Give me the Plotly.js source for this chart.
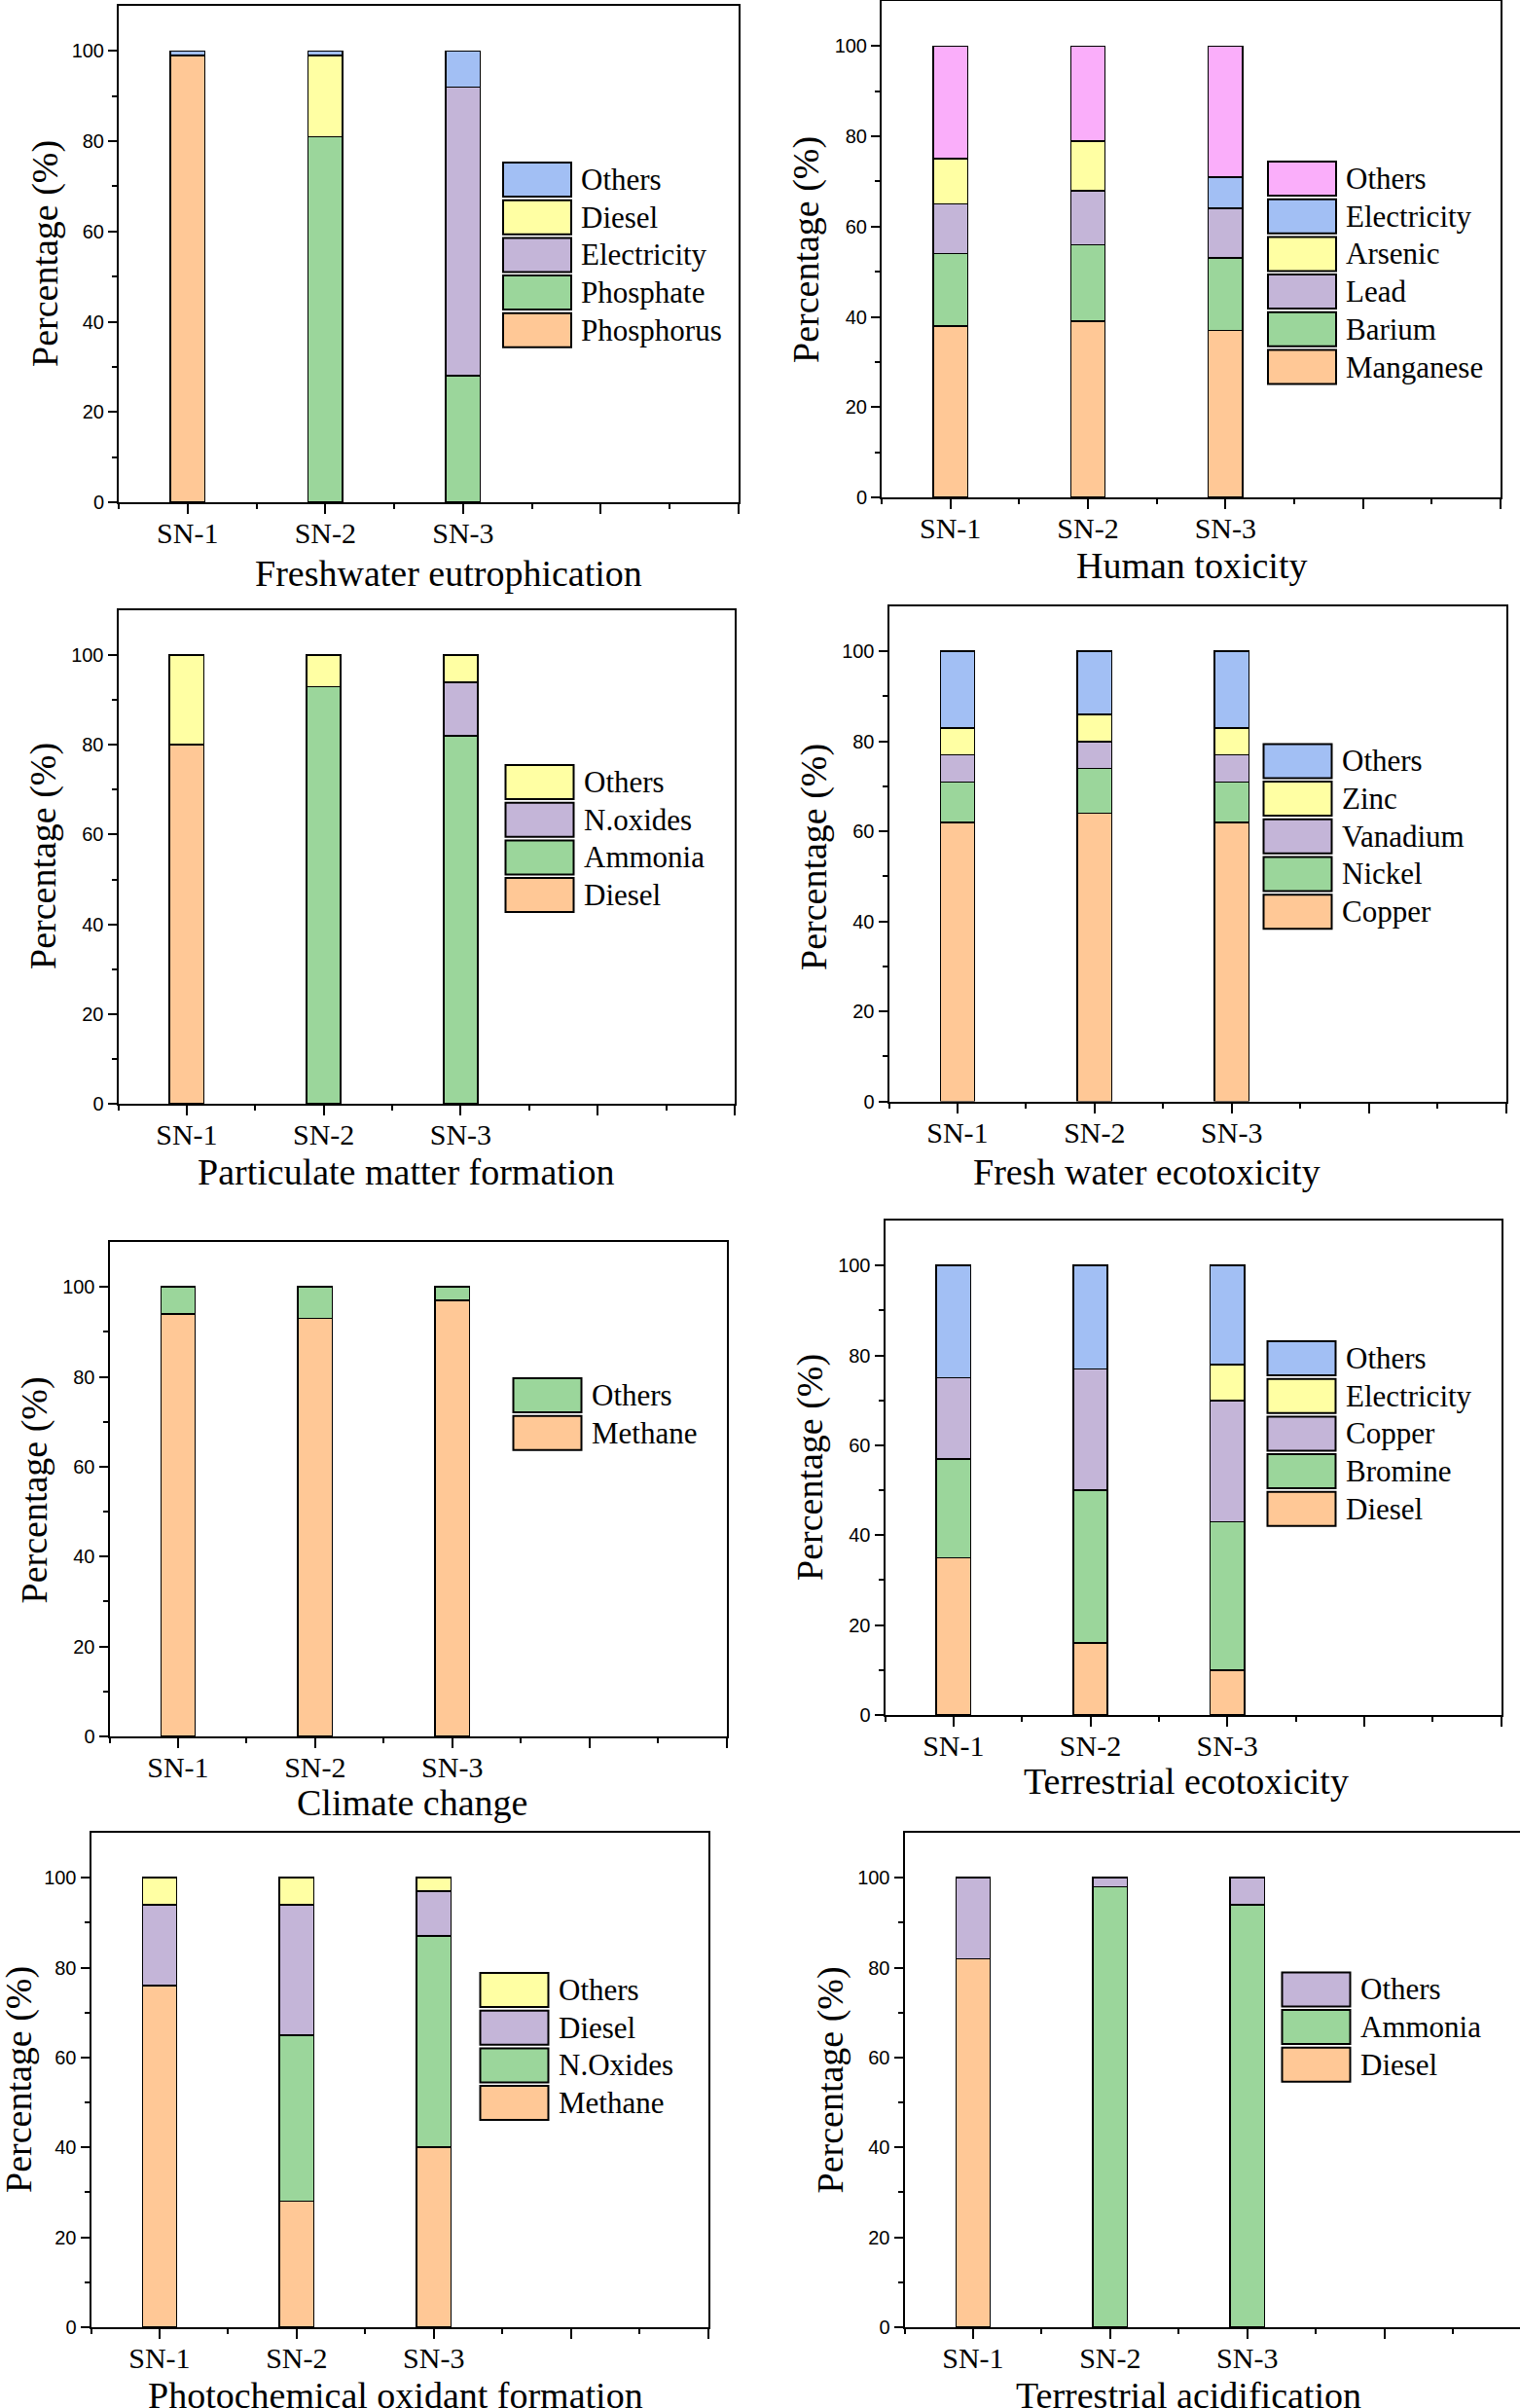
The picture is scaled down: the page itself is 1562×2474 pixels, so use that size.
<!DOCTYPE html>
<html>
<head>
<meta charset="utf-8">
<script src="https://cdn.plot.ly/plotly-3.0.1.min.js"></script>
<style>html,body{margin:0;padding:0;background:#fff;}#chart{width:1562px;height:2474px;}</style>
</head>
<body>
<div id="chart"></div>
<script>
// ---------------- DATA ----------------
const categories = ['SN-1', 'SN-2', 'SN-3'];
const categoryPositions = [1, 2, 3];

// Freshwater eutrophication (bottom -> top of stack)
const eutroSources = ['Phosphorus', 'Phosphate', 'Electricity', 'Diesel', 'Others'];
const eutroValues = [[99, 0, 0], [0, 81, 28], [0, 0, 64], [0, 18, 0], [1, 1, 8]];

// Human toxicity
const humanSources = ['Manganese', 'Barium', 'Lead', 'Arsenic', 'Electricity', 'Others'];
const humanValues = [[38, 39, 37], [16, 17, 16], [11, 12, 11], [10, 11, 0], [0, 0, 7], [25, 21, 29]];

// Particulate matter formation
const pmSources = ['Diesel', 'Ammonia', 'N.oxides', 'Others'];
const pmValues = [[80, 0, 0], [0, 93, 82], [0, 0, 12], [20, 7, 6]];

// Fresh water ecotoxicity
const fweSources = ['Copper', 'Nickel', 'Vanadium', 'Zinc', 'Others'];
const fweValues = [[62, 64, 62], [9, 10, 9], [6, 6, 6], [6, 6, 6], [17, 14, 17]];

// Climate change
const ccSources = ['Methane', 'Others'];
const ccValues = [[94, 93, 97], [6, 7, 3]];

// Terrestrial ecotoxicity
const teSources = ['Diesel', 'Bromine', 'Copper', 'Electricity', 'Others'];
const teValues = [[35, 16, 10], [22, 34, 33], [18, 27, 27], [0, 0, 8], [25, 23, 22]];

// Photochemical oxidant formation
const pofSources = ['Methane', 'N.Oxides', 'Diesel', 'Others'];
const pofValues = [[76, 28, 40], [0, 37, 47], [18, 29, 10], [6, 6, 3]];

// Terrestrial acidification
const taSources = ['Diesel', 'Ammonia', 'Others'];
const taValues = [[82, 0, 0], [0, 98, 94], [18, 2, 6]];

const yTickVals = [0, 20, 40, 60, 80, 100];
const yMinorVals = [10, 30, 50, 70, 90];
const xTickVals = [1, 2, 3, 4, 5];
const xTickText = ['SN-1', 'SN-2', 'SN-3', '', ''];
const xMinorVals = [0.5, 1.5, 2.5, 3.5, 4.5];

// ---------------- STYLE / LAYOUT ----------------
const W = 1562, H = 2474;
const palette = ['#FFC896', '#9BD69B', '#C4B5D8', '#FFFFA3', '#A2BFF4', '#FAAEFA'];
const SERIF = '"Liberation Serif", "Times New Roman", serif';
const SANS = '"Liberation Sans", Arial, sans-serif';

const panels = [
  {title: 'Freshwater eutrophication', sources: eutroSources, values: eutroValues,
   frame: [122, 759, 6, 516], ytitle: [47, 261], xtitle: [461, 589], legend: [517, 167, 595]},
  {title: 'Human toxicity', sources: humanSources, values: humanValues,
   frame: [906, 1542, 1, 511], ytitle: [828, 256], xtitle: [1224, 581], legend: [1303, 166, 1381]},
  {title: 'Particulate matter formation', sources: pmSources, values: pmValues,
   frame: [121.5, 755, 627, 1134], ytitle: [45, 880], xtitle: [417, 1204], legend: [519.5, 786, 597.5]},
  {title: 'Fresh water ecotoxicity', sources: fweSources, values: fweValues,
   frame: [913.5, 1547.5, 623, 1131.6], ytitle: [837, 881], xtitle: [1178, 1204], legend: [1298.5, 764.4, 1377]},
  {title: 'Climate change', sources: ccSources, values: ccValues,
   frame: [112.5, 746.5, 1276, 1784], ytitle: [34.5, 1531], xtitle: [423, 1852], legend: [527.5, 1416, 606]},
  {title: 'Terrestrial ecotoxicity', sources: teSources, values: teValues,
   frame: [909.5, 1542.5, 1254, 1762], ytitle: [832, 1508], xtitle: [1219, 1830], legend: [1302.5, 1378, 1381]},
  {title: 'Photochemical oxidant formation', sources: pofSources, values: pofValues,
   frame: [93.5, 727.5, 1883, 2391], ytitle: [19, 2137], xtitle: [406, 2461], legend: [493.5, 2027, 571.5]},
  {title: 'Terrestrial acidification', sources: taSources, values: taValues,
   frame: [929.5, 1563.5, 1883, 2391], ytitle: [852.5, 2137], xtitle: [1221, 2461], legend: [1317.5, 2026.4, 1396]}
];

const px = x => x / W;
const py = y => 1 - y / H;

const traces = [];
const layout = {
  width: W, height: H,
  margin: {l: 0, r: 0, t: 0, b: 0, pad: 0},
  paper_bgcolor: '#ffffff', plot_bgcolor: '#ffffff',
  barmode: 'stack', showlegend: false,
  shapes: [], annotations: []
};

panels.forEach((p, i) => {
  const n = i + 1;
  const xa = 'x' + (n === 1 ? '' : n), ya = 'y' + (n === 1 ? '' : n);
  const [L, R, T, B] = p.frame;
  const Rc = Math.min(R, W);
  const xEnd = 0.5 + 4.5 * (Rc - L) / (R - L);

  p.sources.forEach((s, k) => {
    traces.push({
      type: 'bar', name: s, x: categoryPositions, y: p.values[k],
      xaxis: xa, yaxis: ya, width: 0.25,
      marker: {color: palette[k], line: {color: '#000', width: 1.6}},
      hoverinfo: 'skip'
    });
  });

  layout['xaxis' + (n === 1 ? '' : n)] = {
    domain: [px(L), px(Rc)], anchor: ya, range: [0.5, xEnd],
    showgrid: false, zeroline: false,
    showline: true, linecolor: '#000', linewidth: 2, mirror: true,
    tickmode: 'array', tickvals: xTickVals, ticktext: xTickText,
    ticks: 'outside', ticklen: 10, tickwidth: 2, tickcolor: '#000',
    ticklabelstandoff: -6,
    tickfont: {family: SERIF, size: 30, color: '#000'},
    minor: {tickmode: 'array', tickvals: xMinorVals, ticks: 'outside', ticklen: 5, tickwidth: 2, tickcolor: '#000', showgrid: false}
  };
  layout['yaxis' + (n === 1 ? '' : n)] = {
    domain: [py(B), py(T)], anchor: xa, range: [0, 110],
    showgrid: false, zeroline: false,
    showline: true, linecolor: '#000', linewidth: 2, mirror: true,
    tickmode: 'array', tickvals: yTickVals,
    ticks: 'outside', ticklen: 9, tickwidth: 2, tickcolor: '#000',
    tickfont: {family: SANS, size: 20, color: '#000'},
    minor: {tickmode: 'array', tickvals: yMinorVals, ticks: 'outside', ticklen: 5, tickwidth: 2, tickcolor: '#000', showgrid: false}
  };

  // axis titles
  layout.annotations.push({
    xref: 'paper', yref: 'paper', x: px(p.ytitle[0]), y: py(p.ytitle[1]),
    xanchor: 'center', yanchor: 'middle', textangle: -90, showarrow: false,
    text: 'Percentage (%)', font: {family: SERIF, size: 38, color: '#000'}
  });
  layout.annotations.push({
    xref: 'paper', yref: 'paper', x: px(p.xtitle[0]), y: py(p.xtitle[1]),
    xanchor: 'center', yanchor: 'middle', showarrow: false,
    text: p.title, font: {family: SERIF, size: 38, color: '#000'}
  });

  // legend (top item = top of stack)
  const [lx, ly, tx] = p.legend;
  const m = p.sources.length;
  for (let j = 0; j < m; j++) {
    const k = m - 1 - j;
    const top = ly + j * 38.7;
    layout.shapes.push({
      type: 'rect', xref: 'paper', yref: 'paper',
      x0: px(lx), x1: px(lx + 70), y0: py(top + 35), y1: py(top),
      fillcolor: palette[k], line: {color: '#000', width: 2}
    });
    layout.annotations.push({
      xref: 'paper', yref: 'paper', x: px(tx), y: py(top + 17.5),
      xanchor: 'left', yanchor: 'middle', showarrow: false,
      text: p.sources[k], font: {family: SERIF, size: 31, color: '#000'}
    });
  }
});

Plotly.newPlot('chart', traces, layout, {displayModeBar: false, staticPlot: true});
</script>
</body>
</html>
